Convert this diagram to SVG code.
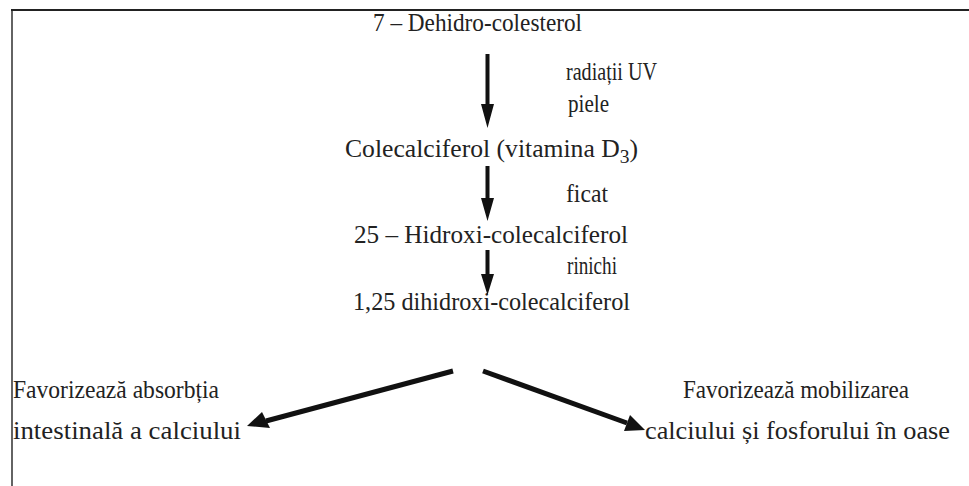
<svg xmlns="http://www.w3.org/2000/svg" width="969" height="486" viewBox="0 0 969 486">
  <style>
    text { font-family: "Liberation Serif", "Times New Roman", "DejaVu Serif", serif; font-size: 25px; fill: #222; }
    .frame { stroke: #222; fill: none; }
    .arr { fill: #111; stroke: none; }
  </style>
  <rect width="969" height="486" fill="#fff"/>

  <!-- page frame (top and left edges) -->
  <g id="frame">
    <line class="frame" x1="11" y1="10" x2="969" y2="10" stroke-width="2"/>
    <line class="frame" x1="12" y1="10" x2="12" y2="486" stroke-width="1.4" stroke="#444"/>
  </g>

  <!-- compounds -->
  <g id="dehidrocolesterol">
    <text x="373" y="31" textLength="209" lengthAdjust="spacingAndGlyphs">7 – Dehidro-colesterol</text>
  </g>
  <g id="colecalciferol">
    <text x="345" y="157" textLength="293" lengthAdjust="spacingAndGlyphs">Colecalciferol (vitamina D<tspan dy="6" font-size="19">3</tspan><tspan dy="-6">)</tspan></text>
  </g>
  <g id="hidroxi">
    <text x="354" y="243" textLength="274" lengthAdjust="spacingAndGlyphs">25 – Hidroxi-colecalciferol</text>
  </g>
  <g id="dihidroxi">
    <text x="353" y="310" textLength="277" lengthAdjust="spacingAndGlyphs">1,25 dihidroxi-colecalciferol</text>
  </g>

  <!-- effects -->
  <g id="absorbtie">
    <text x="13" y="398" textLength="206" lengthAdjust="spacingAndGlyphs">Favorizează absorbția</text>
    <text x="13" y="439" textLength="228" lengthAdjust="spacingAndGlyphs">intestinală a calciului</text>
  </g>
  <g id="mobilizare">
    <text x="683" y="398" textLength="226" lengthAdjust="spacingAndGlyphs">Favorizează mobilizarea</text>
    <text x="645" y="439" textLength="305" lengthAdjust="spacingAndGlyphs">calciului și fosforului în oase</text>
  </g>

  <!-- step labels -->
  <g id="labels">
    <text x="566" y="80" textLength="91" lengthAdjust="spacingAndGlyphs">radiații UV</text>
    <text x="568" y="112" textLength="41" lengthAdjust="spacingAndGlyphs">piele</text>
    <text x="566" y="202" textLength="42" lengthAdjust="spacingAndGlyphs">ficat</text>
    <text x="567" y="274" textLength="50" lengthAdjust="spacingAndGlyphs">rinichi</text>
  </g>

  <!-- connectors -->
  <g id="connectors">
    <!-- vertical steps -->
    <path class="arr" d="M485.5,54 H489.5 V104 L494,104 L487.5,128 L481,104 L485.5,104 Z"/>
    <path class="arr" d="M485.5,166 H489.5 V198 L494,198 L487.5,221 L481,198 L485.5,198 Z"/>
    <path class="arr" d="M485.5,250 H489.5 V274 L494,274 L487.5,295 L481,274 L485.5,274 Z"/>
    <!-- diagonal branches -->
    <line x1="453" y1="371" x2="266" y2="421" stroke="#111" stroke-width="5"/>
    <polygon class="arr" points="247,426 262,412 270,428"/>
    <line x1="483" y1="371" x2="627" y2="423" stroke="#111" stroke-width="5"/>
    <polygon class="arr" points="645,430 624,431 630,415"/>
  </g>
</svg>
